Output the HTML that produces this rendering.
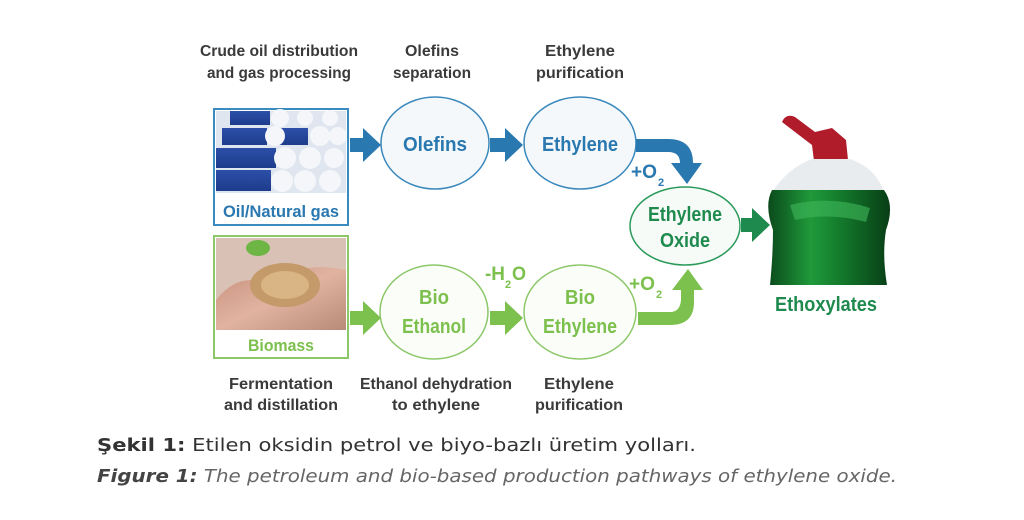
<!DOCTYPE html>
<html><head><meta charset="utf-8"><style>
html,body{margin:0;padding:0;background:#fff;}
svg{display:block;}
.l{font-family:"Liberation Sans Narrow","Liberation Sans",sans-serif;font-weight:bold;fill:#3a3a3a;font-size:16px;}
.n{font-family:"Liberation Sans Narrow","Liberation Sans",sans-serif;font-weight:bold;}
</style></head><body>
<svg width="1024" height="520" viewBox="0 0 1024 520" xmlns="http://www.w3.org/2000/svg">
<defs>
<linearGradient id="bl" x1="0" y1="0" x2="0" y2="1">
<stop offset="0" stop-color="#2c4fa8"/><stop offset="1" stop-color="#1e3c8c"/></linearGradient>
<linearGradient id="hand" x1="0" y1="0" x2="1" y2="1">
<stop offset="0" stop-color="#c98f7d"/><stop offset="0.5" stop-color="#e0b3a0"/><stop offset="1" stop-color="#b88a78"/></linearGradient>
<linearGradient id="bot" x1="0" y1="0" x2="1" y2="0">
<stop offset="0" stop-color="#0b4a1c"/><stop offset="0.35" stop-color="#1f9a3a"/><stop offset="0.6" stop-color="#137a2b"/><stop offset="1" stop-color="#083d16"/></linearGradient>
</defs>
<text class="l" x="279" y="56" text-anchor="middle" textLength="158" lengthAdjust="spacingAndGlyphs">Crude oil distribution</text>
<text class="l" x="279" y="78" text-anchor="middle" textLength="144" lengthAdjust="spacingAndGlyphs">and gas processing</text>
<text class="l" x="432" y="56" text-anchor="middle" textLength="54" lengthAdjust="spacingAndGlyphs">Olefins</text>
<text class="l" x="432" y="78" text-anchor="middle" textLength="78" lengthAdjust="spacingAndGlyphs">separation</text>
<text class="l" x="580" y="56" text-anchor="middle" textLength="70" lengthAdjust="spacingAndGlyphs">Ethylene</text>
<text class="l" x="580" y="78" text-anchor="middle" textLength="88" lengthAdjust="spacingAndGlyphs">purification</text>

<rect x="214" y="109" width="134" height="116" fill="#fff" stroke="#3a8cc0" stroke-width="2"/>
<rect x="216" y="111" width="130" height="82" fill="#dfe6ef"/>
<g fill="url(#bl)">
<rect x="230" y="111" width="40" height="14"/>
<rect x="222" y="128" width="45" height="17"/>
<rect x="278" y="128" width="30" height="17"/>
<rect x="216" y="148" width="60" height="20"/>
<rect x="216" y="170" width="55" height="21"/>
</g>
<g fill="#f4f6f9">
<circle cx="280" cy="118" r="9"/><circle cx="305" cy="118" r="8"/><circle cx="330" cy="118" r="8"/>
<circle cx="275" cy="136" r="10"/><circle cx="320" cy="136" r="10"/><circle cx="338" cy="136" r="9"/>
<circle cx="285" cy="158" r="11"/><circle cx="310" cy="158" r="11"/><circle cx="334" cy="158" r="10"/>
<circle cx="282" cy="181" r="11"/><circle cx="305" cy="181" r="11"/><circle cx="330" cy="181" r="11"/>
</g>
<text class="n" x="281" y="217" text-anchor="middle" fill="#2a78b0" style="font-size:17px" textLength="116" lengthAdjust="spacingAndGlyphs">Oil/Natural gas</text>

<rect x="214" y="236" width="134" height="122" fill="#fff" stroke="#8cc86a" stroke-width="2"/>
<rect x="216" y="238" width="130" height="92" fill="#d9c2b5"/>
<path d="M216 300 Q240 270 270 285 Q300 260 346 270 L346 330 L216 330 Z" fill="url(#hand)"/>
<ellipse cx="285" cy="285" rx="35" ry="22" fill="#c49a6a"/>
<ellipse cx="285" cy="285" rx="24" ry="14" fill="#d9b585"/>
<ellipse cx="258" cy="248" rx="12" ry="8" fill="#6db545"/>
<text class="n" x="281" y="351" text-anchor="middle" fill="#7cc04e" style="font-size:17px" textLength="66" lengthAdjust="spacingAndGlyphs">Biomass</text>

<ellipse cx="435" cy="143" rx="54" ry="46" fill="#f5f8fb" stroke="#3a88bc" stroke-width="1.5"/>
<text class="n" x="435" y="151" text-anchor="middle" fill="#2a78b0" style="font-size:20px" textLength="64" lengthAdjust="spacingAndGlyphs">Olefins</text>
<ellipse cx="580" cy="143" rx="56" ry="46" fill="#f5f8fb" stroke="#3a88bc" stroke-width="1.5"/>
<text class="n" x="580" y="151" text-anchor="middle" fill="#2a78b0" style="font-size:20px" textLength="76" lengthAdjust="spacingAndGlyphs">Ethylene</text>

<path d="M350 138 H363 V128 L381 145 L363 162 V152 H350 Z" fill="#2a78b0"/>
<path d="M490 138 H505 V128 L523 145 L505 162 V152 H490 Z" fill="#2a78b0"/>
<path d="M636 139 H668 Q693 139 693 163 L702 163 L687 184 L671 163 L680 163 Q680 152 668 152 H636 Z" fill="#2a78b0"/>
<text class="n" x="631" y="178" fill="#2a78b0" style="font-size:19px" textLength="26" lengthAdjust="spacingAndGlyphs">+O</text>
<text class="n" x="658" y="186" fill="#2a78b0" style="font-size:11px">2</text>

<ellipse cx="434" cy="312" rx="54" ry="47" fill="#fbfdf8" stroke="#8cc86a" stroke-width="1.5"/>
<text class="n" x="434" y="304" text-anchor="middle" fill="#7cc04e" style="font-size:20px" textLength="30" lengthAdjust="spacingAndGlyphs">Bio</text>
<text class="n" x="434" y="333" text-anchor="middle" fill="#7cc04e" style="font-size:20px" textLength="64" lengthAdjust="spacingAndGlyphs">Ethanol</text>
<ellipse cx="580" cy="312" rx="56" ry="47" fill="#fbfdf8" stroke="#8cc86a" stroke-width="1.5"/>
<text class="n" x="580" y="304" text-anchor="middle" fill="#7cc04e" style="font-size:20px" textLength="30" lengthAdjust="spacingAndGlyphs">Bio</text>
<text class="n" x="580" y="333" text-anchor="middle" fill="#7cc04e" style="font-size:20px" textLength="74" lengthAdjust="spacingAndGlyphs">Ethylene</text>

<path d="M350 311 H363 V301 L381 318 L363 335 V325 H350 Z" fill="#7cc04e"/>
<path d="M490 311 H505 V301 L523 318 L505 335 V325 H490 Z" fill="#7cc04e"/>
<path d="M638 312 H670 Q680 312 681 300 L681 290 L672 290 L688 269 L703 290 L694 290 L694 302 Q694 325 670 325 H638 Z" fill="#7cc04e"/>
<text class="n" x="485" y="280" fill="#7cc04e" style="font-size:19px" textLength="20" lengthAdjust="spacingAndGlyphs">-H</text>
<text class="n" x="505" y="288" fill="#7cc04e" style="font-size:11px">2</text>
<text class="n" x="512" y="280" fill="#7cc04e" style="font-size:19px" textLength="14" lengthAdjust="spacingAndGlyphs">O</text>
<text class="n" x="629" y="290" fill="#7cc04e" style="font-size:19px" textLength="26" lengthAdjust="spacingAndGlyphs">+O</text>
<text class="n" x="656" y="298" fill="#7cc04e" style="font-size:11px">2</text>

<ellipse cx="685" cy="226" rx="55" ry="39" fill="#f7fbf8" stroke="#2a9a5a" stroke-width="1.5"/>
<text class="n" x="685" y="221" text-anchor="middle" fill="#1e8a4e" style="font-size:20px" textLength="74" lengthAdjust="spacingAndGlyphs">Ethylene</text>
<text class="n" x="685" y="247" text-anchor="middle" fill="#1e8a4e" style="font-size:20px" textLength="50" lengthAdjust="spacingAndGlyphs">Oxide</text>
<path d="M741 218 H752 V208 L770 225 L752 242 V232 H741 Z" fill="#1e8a4e"/>

<path d="M782 122 Q786 113 795 117 L815 132 L832 128 L846 140 L848 160 L814 161 L812 145 Q795 132 782 122 Z" fill="#b01c2a"/>
<path d="M812 159 H850 Q876 168 884 192 H772 Q788 168 812 159 Z" fill="#e8ecee"/>
<path d="M772 190 H884 Q895 205 886 230 Q882 255 887 285 H770 Q773 255 773 230 Q764 205 772 190 Z" fill="url(#bot)"/>
<path d="M790 205 Q830 195 870 208 L866 222 Q830 212 795 220 Z" fill="#3fb85a" opacity="0.6"/>
<text class="n" x="826" y="311" text-anchor="middle" fill="#1e8a4e" style="font-size:20px" textLength="102" lengthAdjust="spacingAndGlyphs">Ethoxylates</text>

<text class="l" x="281" y="389" text-anchor="middle" textLength="104" lengthAdjust="spacingAndGlyphs">Fermentation</text>
<text class="l" x="281" y="410" text-anchor="middle" textLength="114" lengthAdjust="spacingAndGlyphs">and distillation</text>
<text class="l" x="436" y="389" text-anchor="middle" textLength="152" lengthAdjust="spacingAndGlyphs">Ethanol dehydration</text>
<text class="l" x="436" y="410" text-anchor="middle" textLength="88" lengthAdjust="spacingAndGlyphs">to ethylene</text>
<text class="l" x="579" y="389" text-anchor="middle" textLength="70" lengthAdjust="spacingAndGlyphs">Ethylene</text>
<text class="l" x="579" y="410" text-anchor="middle" textLength="88" lengthAdjust="spacingAndGlyphs">purification</text>

<text x="97" y="451" font-family="'DejaVu Sans','Liberation Sans',sans-serif" font-size="18" fill="#333" textLength="599" lengthAdjust="spacingAndGlyphs"><tspan font-weight="bold">Şekil 1:</tspan> Etilen oksidin petrol ve biyo-bazlı üretim yolları.</text>
<text x="97" y="482" font-family="'DejaVu Sans','Liberation Sans',sans-serif" font-size="18" font-style="italic" fill="#666" textLength="800" lengthAdjust="spacingAndGlyphs"><tspan font-weight="bold" fill="#444">Figure 1:</tspan> The petroleum and bio-based production pathways of ethylene oxide.</text>
</svg>
</body></html>
